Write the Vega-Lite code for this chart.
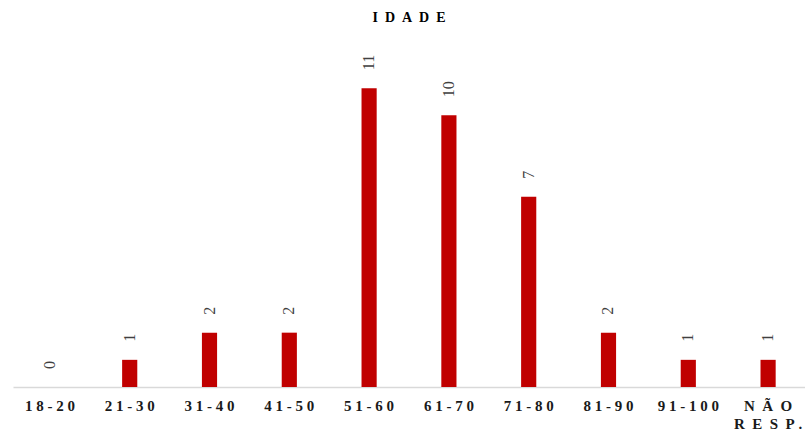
{
  "$schema": "https://vega.github.io/schema/vega-lite/v6.json",
  "width": 792,
  "height": 326,
  "autosize": {"type": "none"},
  "padding": {"left": 13, "top": 61, "right": 0, "bottom": 52},
  "background": "white",
  "title": {
    "text": "I\u00a0\u00a0D\u00a0\u00a0A\u00a0\u00a0D\u00a0\u00a0E",
    "font": "Liberation Serif",
    "fontSize": 14,
    "fontWeight": "bold",
    "color": "#000000",
    "anchor": "middle",
    "offset": 30
  },
  "config": {"view": {"stroke": null}},
  "data": {
    "values": [
      {"faixa": "18-20", "n": 0},
      {"faixa": "21-30", "n": 1},
      {"faixa": "31-40", "n": 2},
      {"faixa": "41-50", "n": 2},
      {"faixa": "51-60", "n": 11},
      {"faixa": "61-70", "n": 10},
      {"faixa": "71-80", "n": 7},
      {"faixa": "81-90", "n": 2},
      {"faixa": "91-100", "n": 1},
      {"faixa": "NÃO RESP.", "n": 1}
    ]
  },
  "encoding": {
    "x": {
      "field": "faixa",
      "type": "nominal",
      "sort": null,
      "scale": {"paddingInner": 0.81, "paddingOuter": 0.3675},
      "axis": {
        "title": null,
        "ticks": false,
        "domainColor": "#d9d9d9",
        "domainWidth": 1.5,
        "labelAngle": 0,
        "labelFont": "Liberation Serif",
        "labelFontSize": 15,
        "labelFontWeight": "bold",
        "labelColor": "#1a1a1a",
        "labelPadding": 11,
        "labelBaseline": "top",
        "labelLineHeight": 18,
        "labelExpr": "datum.label == 'NÃO RESP.' ? ['N\u00a0\u00a0Ã\u00a0\u00a0O', 'R\u00a0\u00a0E\u00a0\u00a0S\u00a0\u00a0P\u00a0.'] : join(split(datum.label, ''), '\u00a0')"
      }
    },
    "y": {
      "field": "n",
      "type": "quantitative",
      "scale": {"domain": [0, 12], "nice": false},
      "axis": null
    }
  },
  "layer": [
    {"mark": {"type": "bar", "color": "#c00000"}},
    {
      "mark": {
        "type": "text",
        "angle": 270,
        "align": "left",
        "baseline": "middle",
        "dx": 18,
        "font": "Liberation Serif",
        "fontSize": 16,
        "color": "#404040"
      },
      "encoding": {"text": {"field": "n", "type": "quantitative"}}
    }
  ]
}
